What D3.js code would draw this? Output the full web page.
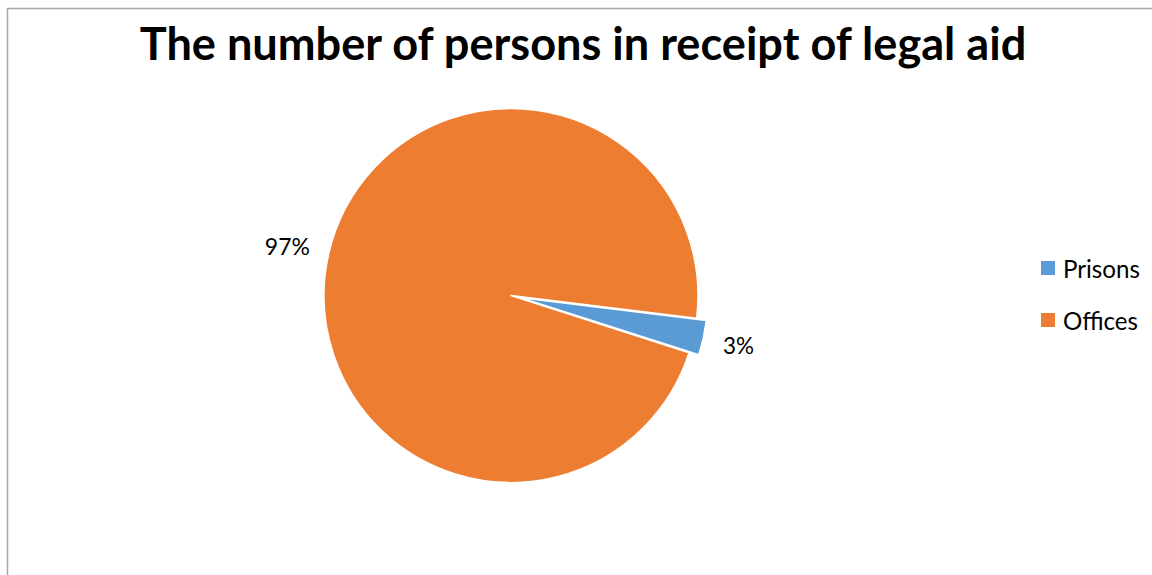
<!DOCTYPE html>
<html>
<head>
<meta charset="utf-8">
<script src="https://cdn.jsdelivr.net/npm/d3@7"></script>
<style>
  html, body { margin: 0; padding: 0; background: #fff; overflow: hidden; }
  svg { display: block; }
  text { font-family: Lato, "Open Sans", "Liberation Sans", sans-serif; fill: #000; }
</style>
</head>
<body>
<svg id="chart" width="1152" height="575"></svg>
<script>
const title = "The number of persons in receipt of legal aid";
const categories = ["Prisons", "Offices"];
const values = [3, 97];
const percentLabels = ["3%", "97%"];
const colors = ["#5B9BD5", "#ED7D31"];

const W = 1152, H = 575;
const svg = d3.select("#chart");

// chart border
svg.append("rect")
  .attr("x", 7.5).attr("y", 8.5)
  .attr("width", W + 20).attr("height", H + 20)
  .attr("fill", "#fff")
  .attr("stroke", "#a6a6a6").attr("stroke-width", 1.5);

// helper to fit text width
function fitWidth(sel, target) {
  const fs = parseFloat(sel.attr("font-size"));
  const w = sel.node().getComputedTextLength();
  sel.attr("font-size", fs * target / w);
}

// title
const t = svg.append("text")
  .attr("x", 583).attr("y", 60)
  .attr("text-anchor", "middle")
  .attr("font-weight", "bold")
  .attr("font-size", 42)
  .text(title);
fitWidth(t, 887);

// pie
const cx = 511, cy = 295.5, r = 187;
const startDeg = 97;
const pie = d3.pie().sort(null).value(d => d)
  .startAngle(startDeg * Math.PI / 180)
  .endAngle((startDeg + 360) * Math.PI / 180);
const arcs = pie(values);
const arc = d3.arc().innerRadius(0).outerRadius(r);
const explode = [10, 0];
const labelR = [r + 36, r + 42];

const g = svg.append("g").attr("transform", `translate(${cx},${cy})`);

arcs.forEach((a, i) => {
  const mid = (a.startAngle + a.endAngle) / 2;
  const ex = Math.sin(mid) * explode[i], ey = -Math.cos(mid) * explode[i];
  g.append("path")
    .attr("d", arc(a))
    .attr("transform", `translate(${ex},${ey})`)
    .attr("fill", colors[i])
    .attr("stroke", "#fff")
    .attr("stroke-width", 1.5)
    .attr("stroke-linejoin", "round");
  const lr = labelR[i] + explode[i];
  const lt = g.append("text")
    .attr("x", Math.sin(mid) * lr)
    .attr("y", -Math.cos(mid) * lr)
    .attr("text-anchor", "middle")
    .attr("dominant-baseline", "central")
    .attr("font-size", 21)
    .text(percentLabels[i]);
  fitWidth(lt, i === 0 ? 31 : 45);
});

// legend
const legend = svg.append("g");
const legY = [268, 320];
categories.forEach((c, i) => {
  legend.append("rect")
    .attr("x", 1041).attr("y", legY[i] - 7)
    .attr("width", 14).attr("height", 14)
    .attr("fill", colors[i]);
  const lt = legend.append("text")
    .attr("x", 1063).attr("y", legY[i])
    .attr("dominant-baseline", "central")
    .attr("font-size", 21)
    .text(c);
  fitWidth(lt, i === 0 ? 77 : 75);
});
</script>
</body>
</html>
